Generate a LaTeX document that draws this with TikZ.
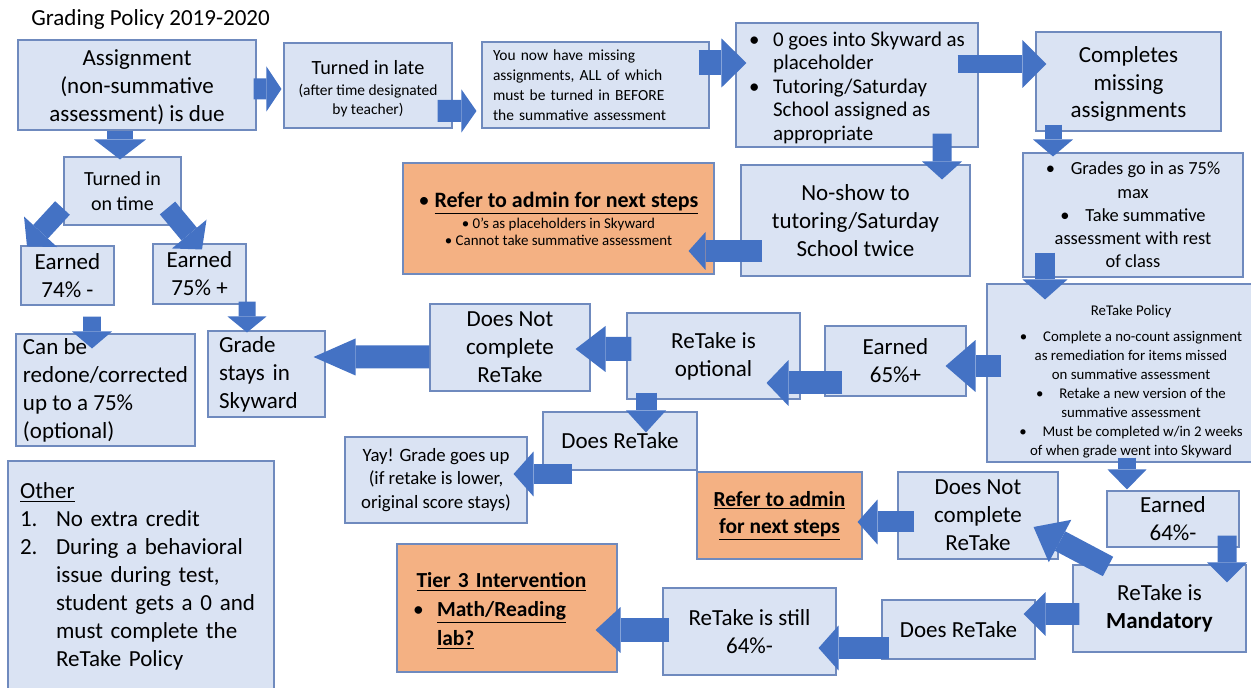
\documentclass[tikz,border=0pt]{standalone}
\usepackage{fontspec}
\setmainfont{Carlito}
\usepackage{xcolor}
\usepackage{tikz}
\usetikzlibrary{arrows.meta, calc, positioning}
\definecolor{boxfill}{HTML}{DAE3F3}
\definecolor{boxline}{HTML}{6F8ABE}
\definecolor{arrowblue}{HTML}{4472C4}
\definecolor{referfill}{HTML}{F4B183}
\newcommand\bul{\makebox[13.7pt][l]{\textbullet}}
\tikzset{
    box/.style={
      draw=boxline, %thin blue border
      fill=boxfill,
      line width=0.6pt,
      inner sep=0pt,
      align=center,
    },
    refer/.style={box, fill=referfill}, %orange boxes
    sz/.style 2 args={minimum width=#1*0.02cm, minimum height=#2*0.02cm},
    big/.style={font=\fontsize{13.1}{15.9}\selectfont},
    barrow/.style n args={3}{
      draw=arrowblue,
      line width=#1cm, %block arrow body
      -{Triangle[width=#2cm, length=#3cm, line width=0pt]}, %flat head
    },
  }

\begin{document}
\begin{tikzpicture}[x=0.02cm, y=-0.02cm]
  \useasboundingbox (0,0) rectangle (1251,688);

  \node[anchor=west, inner sep=0pt, font=\fontsize{13.1}{15.9}\selectfont] (title) at (31,19) {Grading Policy 2019-2020};

  % top row
  \node[box, big, sz={238}{90}] (assign) at (137,85) {\rule{0pt}{11.5pt}Assignment\\(non-summative\\assessment) is due};
  \node[box, font=\fontsize{8.8}{10.8}\selectfont, sz={168}{85}] (late) at (368,85.5) {{\fontsize{11.5}{14}\selectfont\rule{0pt}{12pt}Turned in late}\\[1pt](after time designated\\by teacher)};
  \node[box, align=left, font=\fontsize{8.8}{11.4}\selectfont, sz={227}{86}, text width=4.1cm, inner xsep=0.22cm] (missing) at (595.5,85) {You now have missing\\assignments, ALL of which\\must be turned in BEFORE\\the summative assessment};
  \node[box, align=left, font=\fontsize{11.9}{13.4}\selectfont, sz={242}{124}] (zero) at (857,85) {\rule{0pt}{11.5pt}\bul 0 goes into Skyward as\\\hspace*{13.7pt}placeholder\\\bul Tutoring/Saturday\\\hspace*{13.7pt}School assigned as\\\hspace*{13.7pt}appropriate};
  \node[box, big, sz={185}{99}] (completes) at (1128.5,81.5) {\rule{0pt}{12pt}Completes\\missing\\assignments};

  % second row
  \node[box, font=\fontsize{11.4}{14.2}\selectfont, sz={117}{68}] (ontime) at (122.5,191) {Turned in\\on time};
  \node[refer, font=\fontsize{8.5}{9.7}\selectfont, sz={311}{111}] (referA) at (558.5,218.5) {{\fontsize{12.5}{15}\selectfont\textbullet\ \underline{\textbf{Refer to admin for next steps}}}\\[1pt]\textbullet\ 0’s as placeholders in Skyward\\\textbullet\ Cannot take summative assessment};
  \node[box, big, sz={229}{111}] (noshow) at (855.5,220.5) {No-show to\\tutoring/Saturday\\School twice};
  \node[box, font=\fontsize{10.5}{13.2}\selectfont, sz={220}{124}] (grades) at (1133,215) {\textbullet\hspace{9pt}Grades go in as 75\%\\max\\\textbullet\hspace{9pt}Take summative\\assessment with rest\\of class};
  \node[box, big, sz={93}{59}] (earnedlow) at (67.5,275.5) {Earned\\74\% -};
  \node[box, big, sz={93}{60}] (earnedhigh) at (199.5,274) {Earned\\75\% +};

  % third row
  \node[box, big, align=left, sz={179}{112}] (redo) at (105.5,390) {Can be\\redone/corrected\\up to a 75\%\\(optional)};
  \node[box, big, align=left, sz={117}{86}, text width=1.9cm, inner xsep=0.22cm] (stays) at (266.5,374) {Grade\\stays in\\Skyward};
  \node[box, big, sz={160}{87}] (notdoneA) at (510,347.5) {Does Not\\complete\\ReTake};
  \node[box, big, sz={173}{86}] (optional) at (713.5,356) {ReTake is\\optional};
  \node[box, big, sz={141}{70}] (earnedmid) at (895.5,361) {Earned\\65\%+};
  \node[box, font=\fontsize{8.45}{10.8}\selectfont, sz={288}{178}] (policy) at (1131,373) {\rule{0pt}{16pt}ReTake Policy\\[4pt]\textbullet\hspace{9pt}Complete a no-count assignment\\as remediation for items missed\\on summative assessment\\\textbullet\hspace{9pt}Retake a new version of the\\summative assessment\\\textbullet\hspace{9pt}Must be completed w/in 2 weeks\\of when grade went into Skyward};

  % fourth row
  \node[box, big, sz={154}{58}] (doneA) at (620,441) {Does ReTake};
  \node[box, font=\fontsize{10.7}{13.6}\selectfont, sz={182}{86}] (yay) at (436,480) {Yay! Grade goes up\\(if retake is lower,\\original score stays)};
  \node[box, big, align=left, sz={266}{231}, text width=4.84cm, inner xsep=0.24cm] (other) at (141,576.5) {\underline{Other}\\\makebox[20.5pt][l]{1.}No extra credit\\\makebox[20.5pt][l]{2.}During a behavioral\\\hspace*{20.5pt}issue during test,\\\hspace*{20.5pt}student gets a 0 and\\\hspace*{20.5pt}must complete the\\\hspace*{20.5pt}ReTake Policy};
  \node[refer, font=\fontsize{12.2}{15.4}\selectfont, sz={165}{87}] (referB) at (779.5,515.5) {\underline{\textbf{Refer to admin}}\\\underline{\textbf{for next steps}}};
  \node[box, big, sz={160}{87}] (notdoneB) at (978,515.5) {Does Not\\complete\\ReTake};
  \node[box, big, sz={132}{56}] (earnedfail) at (1173,519) {Earned\\64\%-};

  % bottom row
  \node[box, big, sz={173}{87}] (mandatory) at (1159.5,608.5) {ReTake is\\\textbf{Mandatory}};
  \node[box, big, sz={153}{59}] (doneB) at (958.5,629.5) {Does ReTake};
  \node[box, big, sz={173}{87}] (still) at (749.5,631.5) {ReTake is still\\64\%-};
  \node[refer, align=left, font=\fontsize{12.2}{16.4}\selectfont, sz={220}{128}, text width=3.76cm, inner xsep=0.32cm] (tier) at (507,608) {\rule{0pt}{12pt}\hspace*{2pt}\underline{\textbf{Tier 3 Intervention}}\\\bul\underline{\textbf{Math/Reading}}\\\hspace*{13.7pt}\underline{\textbf{lab?}}};

  % block arrows
  \path
  ($(assign.east)+(-3,4)$) edge[barrow={0.42}{0.9}{0.3}] ($(late.west)+(-2,3.5)$)
  ($(late.east)+(-15,25.5)$) edge[barrow={0.44}{0.86}{0.3}] ($(missing.west)+(-5,26)$)
  ($(missing.east)+(-11,-22)$) edge[barrow={0.5}{0.98}{0.5}] ($(zero.west)+(11,-22)$)
  ($(zero.east)+(-21,-21)$) edge[barrow={0.36}{0.96}{0.48}] ($(completes.west)+(11,-17.5)$)
  ($(assign.south)+(-17,0)$) edge[barrow={0.52}{1.04}{0.4}] ($(ontime.north)+(-2.5,3)$)
  ($(completes.south)+(-75.5,-7)$) edge[barrow={0.34}{0.8}{0.34}] ($(grades.north)+(-80,4)$)
  ($(zero.south)+(85,-14)$) edge[barrow={0.38}{0.8}{0.36}] ($(noshow.north)+(86.5,15)$)
  ($(noshow.west)+(22,30.5)$) edge[barrow={0.44}{0.76}{0.34}] ($(referA.east)+(-26,32.5)$)
  ($(grades.south)+(-88,-25)$) edge[barrow={0.4}{0.9}{0.4}] ($(policy.north)+(-86,16)$)
  ($(ontime.west)+(-1,17)$) edge[barrow={0.4}{0.9}{0.4}] ($(earnedlow.north)+(-40.5,1)$)
  ($(ontime.east)+(-14,17)$) edge[barrow={0.4}{0.9}{0.4}] ($(earnedhigh.north)+(2.5,6)$)
  ($(earnedlow.south)+(24.5,11)$) edge[barrow={0.36}{0.8}{0.34}] ($(redo.north)+(-13.5,15)$)
  ($(earnedhigh.south)+(47.5,-3)$) edge[barrow={0.34}{0.78}{0.32}] ($(stays.north)+(-19.5,2)$)
  ($(notdoneA.west)+(0,9.5)$) edge[barrow={0.46}{0.74}{0.84}] ($(stays.east)+(-12,-17)$)
  ($(optional.west)+(5,-7)$) edge[barrow={0.48}{0.92}{0.6}] ($(notdoneA.east)+(-15,1.5)$)
  ($(earnedmid.west)+(18,22)$) edge[barrow={0.46}{0.92}{0.44}] ($(optional.east)+(-34,27)$)
  ($(policy.west)+(15,-7)$) edge[barrow={0.44}{1.04}{0.6}] ($(earnedmid.east)+(-21,5)$)
  ($(optional.south)+(-67.5,-7)$) edge[barrow={0.42}{0.8}{0.44}] ($(doneA.north)+(26,21)$)
  ($(doneA.west)+(30,33)$) edge[barrow={0.4}{0.9}{0.4}] ($(yay.east)+(-14,-6)$)
  ($(policy.south)+(-4,-5)$) edge[barrow={0.36}{0.78}{0.4}] ($(earnedfail.north)+(-46,-1)$)
  ($(earnedfail.south)+(54,-12)$) edge[barrow={0.38}{0.8}{0.4}] ($(mandatory.north)+(67.5,18)$)
  ($(mandatory.north)+(-51.5,2)$) edge[barrow={0.44}{0.96}{0.6}] ($(notdoneB.east)+(-25,11.5)$)
  ($(mandatory.west)+(7,5.5)$) edge[barrow={0.44}{0.88}{0.44}] ($(doneB.east)+(-12,-15.5)$)
  ($(notdoneB.west)+(17,6.5)$) edge[barrow={0.42}{0.9}{0.4}] ($(referB.east)+(-5,6.5)$)
  ($(doneB.west)+(8,18.5)$) edge[barrow={0.44}{0.9}{0.4}] ($(still.east)+(-18,16.5)$)
  ($(still.west)+(7,-1.5)$) edge[barrow={0.48}{0.92}{0.5}] ($(tier.east)+(-22,22)$);
\end{tikzpicture}
\end{document}
